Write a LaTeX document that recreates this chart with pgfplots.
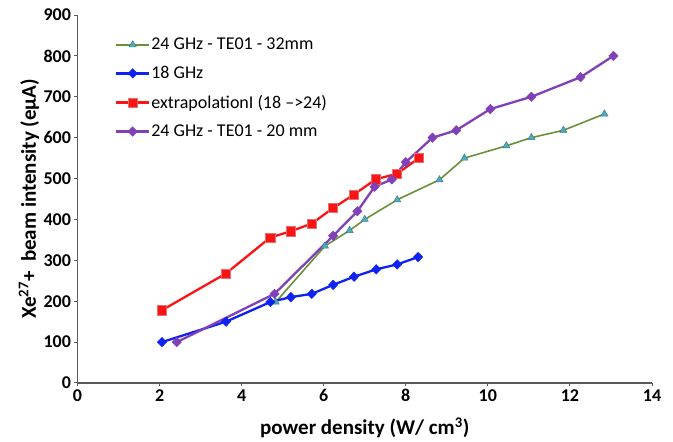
\documentclass[border=0pt]{standalone}
\usepackage{fontspec}
\setmainfont{Carlito}
\usepackage{pgfplots}
\pgfplotsset{compat=1.18}
\definecolor{cgreen}{RGB}{105,145,55}
\definecolor{cteal}{RGB}{80,170,190}
\definecolor{cblue}{RGB}{15,35,240}
\definecolor{cred}{RGB}{250,20,20}
\definecolor{credge}{RGB}{230,110,110}
\definecolor{cpurple}{RGB}{128,64,184}
\definecolor{caxis}{RGB}{90,90,90}
\begin{document}
\begin{tikzpicture}
\begin{axis}[name=ax, scale only axis, width=574.5pt, height=368pt,
  xmin=0, xmax=14, ymin=0, ymax=900,
  xtick={0,2,...,14}, ytick={0,100,...,900},
  axis lines=left, axis line style={-, caxis, line width=1.5pt},
  tick style={caxis, line width=1pt}, tick align=outside, major tick length=3pt,
  ticklabel style={font=\fontsize{18}{20}\selectfont\bfseries},
  /pgf/number format/assume math mode=true,
  xlabel={power density (W/ cm\textsuperscript{3})},
  ylabel={Xe\textsuperscript{27}+\ \ beam intensity (eµA)},
  label style={font=\fontsize{21}{24}\selectfont\bfseries},
  xlabel style={at={(axis description cs:0.5,0)}, anchor=base, yshift=-52pt},
  ylabel style={at={(axis description cs:0,0.5)}, anchor=base, yshift=41.5pt},
  legend cell align=left,
  legend style={at={(0.065,0.94)}, anchor=north west, draw=none, fill=none,
    font=\fontsize{18}{20}\selectfont, row sep=13pt, inner sep=0pt,
    nodes={inner sep=1pt}},
  legend image code/.code={\draw[mark repeat=2,mark phase=2] plot coordinates {(0cm,0cm) (0.58cm,0cm) (1.16cm,0cm)};},
]
\addplot[cgreen, line width=1.6pt, mark=triangle*, mark size=4.2pt, mark options={fill=cteal, draw=cteal!70!black, line width=0.4pt}] coordinates {
(4.83,198)(6.03,335)(6.63,373)(7.0,400)(7.79,448)(8.82,497)(9.43,550)(10.45,580)(11.06,600)(11.84,618)(12.84,658)};
\addlegendentry{24 GHz - TE01 - 32mm}
\addplot[cblue, line width=2.3pt, mark=diamond*, mark size=4.8pt, mark options={fill=cblue, line width=0.4pt, xscale=1.3}] coordinates {
(2.06,100)(3.62,150)(4.7,198)(5.2,210)(5.71,218)(6.23,240)(6.74,260)(7.28,278)(7.79,290)(8.3,308)};
\addlegendentry{18 GHz}
\addplot[cred, line width=2.3pt, mark=square*, mark size=4.6pt, mark options={fill=cred, draw=credge, line width=0.6pt}] coordinates {
(2.06,178)(3.62,268)(4.7,356)(5.2,371)(5.71,390)(6.23,428)(6.74,461)(7.26,498)(7.79,512)(8.32,550)};
\addlegendentry{extrapolationI (18 -->24)}
\addplot[cpurple, line width=2.3pt, mark=diamond*, mark size=4.8pt, mark options={fill=cpurple, line width=0.4pt, xscale=1.3}] coordinates {
(2.42,100)(4.8,218)(6.23,360)(6.82,420)(7.24,480)(7.66,498)(8.0,540)(8.65,600)(9.23,618)(10.06,670)(11.06,700)(12.26,748)(13.06,800)};
\addlegendentry{24 GHz - TE01 - 20 mm}
\end{axis}
\path (ax.south west) ++(-77.5pt,-58pt) rectangle ++(673pt,441pt);
\end{tikzpicture}
\end{document}
